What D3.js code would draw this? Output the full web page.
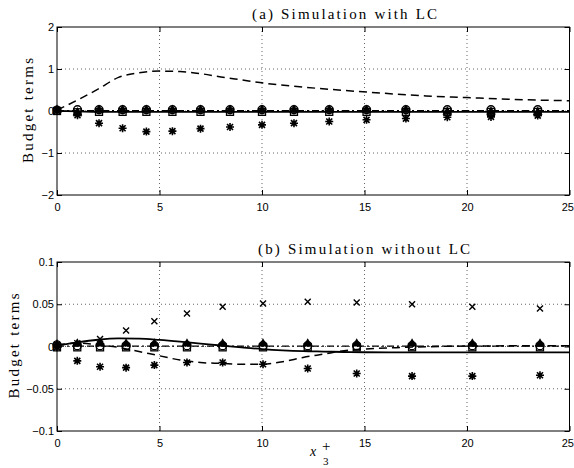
<!DOCTYPE html>
<html>
<head>
<meta charset="utf-8">
<script src="https://cdn.jsdelivr.net/npm/d3@7"></script>
<style>
  body { margin: 0; background: #fff; }
  .tick text { font-family: "Liberation Sans", Arial, sans-serif; font-size: 11px; fill: #000; }
  .ttl { font-family: "Liberation Serif", "DejaVu Serif", serif; font-size: 15px; }
</style>
</head>
<body>
<svg id="chart" width="574" height="468"></svg>
<script>
// Data
const xTicks = [0, 5, 10, 15, 20, 25];

// (a) with LC
const lineXA = [0, 1, 2, 3, 4, 5, 6, 7, 8, 9, 10, 12, 14, 16, 18, 20, 22, 25];
const dashedA = [0.02, 0.26, 0.52, 0.8, 0.91, 0.95, 0.94, 0.89, 0.81, 0.74, 0.67, 0.57, 0.49, 0.42, 0.36, 0.32, 0.28, 0.245];
const solidA = [0, -0.01, -0.02, -0.02, -0.02, -0.02, -0.02, -0.02, -0.02, -0.02, -0.02, -0.02, -0.02, -0.02, -0.02, -0.02, -0.02, -0.02];
const dashdotA = [0.01, 0.01, 0.01, 0.01, 0.01, 0.01, 0.01, 0.01, 0.01, 0.01, 0.01, 0.01, 0.01, 0.01, 0.01, 0.01, 0.01, 0.01];
const markXA = [0, 1, 2.05, 3.2, 4.36, 5.63, 7, 8.44, 10, 11.56, 13.28, 15.1, 17.02, 19.04, 21.17, 23.45];
const starA = [0, -0.1, -0.29, -0.41, -0.49, -0.48, -0.42, -0.38, -0.33, -0.29, -0.25, -0.21, -0.18, -0.15, -0.14, -0.11];
const circleA = [0.02, 0.03, 0.03, 0.03, 0.03, 0.03, 0.03, 0.03, 0.03, 0.03, 0.03, 0.03, 0.03, 0.03, 0.03, 0.03];
const squareA = [0, -0.03, -0.02, -0.02, -0.02, -0.02, -0.02, -0.02, -0.02, -0.02, -0.02, -0.02, -0.02, -0.02, -0.02, -0.02];
const triA = [0, -0.06, 0, 0, 0, 0, 0, 0, 0, 0, 0, 0, 0, -0.04, -0.04, -0.05];
const yTicksA = [-2, -1, 0, 1, 2];

// (b) without LC
const lineXB = [0, 1, 2, 3, 4, 5, 6, 7, 8, 9, 10, 11, 12, 13, 14, 15, 17, 20, 25];
const solidB = [0.001, 0.005, 0.008, 0.0095, 0.0093, 0.0078, 0.0058, 0.0035, 0.0012, -0.001, -0.003, -0.0045, -0.0055, -0.006, -0.0065, -0.0068, -0.007, -0.007, -0.007];
const dashedB = [0.002, 0.004, 0.002, -0.001, -0.006, -0.011, -0.016, -0.019, -0.02, -0.021, -0.021, -0.018, -0.013, -0.009, -0.005, -0.003, -0.001, 0.0005, 0.001];
const dashdotB = [0.0005, 0.0005, 0.0005, 0.0005, 0.0005, 0.0005, 0.0005, 0.0005, 0.0005, 0.0005, 0.0005, 0.0005, 0.0005, 0.0005, 0.0005, 0.0005, 0.0005, 0.0005, 0.0005];
const markXB = [0, 0.99, 2.1, 3.37, 4.75, 6.34, 8.08, 10.05, 12.23, 14.62, 17.32, 20.26, 23.56];
const crossB = [0.002, 0.004, 0.009, 0.019, 0.03, 0.039, 0.047, 0.051, 0.053, 0.052, 0.05, 0.047, 0.045];
const starB = [-0.001, -0.017, -0.024, -0.025, -0.022, -0.019, -0.019, -0.021, -0.026, -0.032, -0.035, -0.035, -0.034];
const circleB = [0.002, 0.001, 0.001, 0.001, 0.001, 0.001, 0.001, 0.001, 0.001, 0.001, 0.001, 0.001, 0.001];
const squareB = [-0.001, -0.001, -0.001, -0.001, -0.001, -0.001, -0.001, -0.001, -0.001, -0.001, -0.001, -0.001, -0.001];
const triB = [0.001, 0.002, 0.002, 0.002, 0.002, 0.002, 0.002, 0.002, 0.002, 0.002, 0.002, 0.002, 0.002];
const yTicksB = [-0.1, -0.05, 0, 0.05, 0.1];

const svg = d3.select('#chart');

function drawPanel(opt) {
    const x = d3.scaleLinear().domain([0, 25]).range([57, 569.5]);
    const y = d3.scaleLinear().domain(opt.yDomain).range([opt.bottom, opt.top]);
    const g = svg.append('g');

    // dotted grid
    g.selectAll('.gx').data(xTicks.slice(1, -1)).enter().append('line')
        .attr('x1', d => x(d)).attr('x2', d => x(d))
        .attr('y1', opt.top).attr('y2', opt.bottom)
        .attr('stroke', '#000').attr('stroke-width', 0.6).attr('stroke-dasharray', '1,3');
    g.selectAll('.gy').data(opt.yTicks.slice(1, -1)).enter().append('line')
        .attr('x1', x(0)).attr('x2', x(25))
        .attr('y1', d => y(d)).attr('y2', d => y(d))
        .attr('stroke', '#000').attr('stroke-width', 0.6).attr('stroke-dasharray', '1,3');

    // lines
    const line = (xs) => d3.line().x((d, i) => x(xs[i])).y(d => y(d)).curve(d3.curveMonotoneX);
    const lines = [
        { v: opt.dashdot, dash: '7,3,2,3', w: 1.4 },
        { v: opt.dashed, dash: '8,5', w: 1.5 },
        { v: opt.solid, dash: null, w: 1.8 }
    ];
    lines.forEach(l => {
        g.append('path').datum(l.v)
            .attr('d', line(opt.lineX))
            .attr('fill', 'none').attr('stroke', '#000')
            .attr('stroke-width', l.w)
            .attr('stroke-dasharray', l.dash);
    });

    // markers
    const mx = opt.markX;
    g.selectAll('.sq').data(opt.square).enter().append('rect')
        .attr('x', (d, i) => x(mx[i]) - 3.5).attr('y', d => y(d) - 3.5)
        .attr('width', 7).attr('height', 7)
        .attr('fill', 'none').attr('stroke', '#000').attr('stroke-width', 1.3);
    g.selectAll('.ci').data(opt.circle).enter().append('circle')
        .attr('cx', (d, i) => x(mx[i])).attr('cy', d => y(d)).attr('r', 4)
        .attr('fill', 'none').attr('stroke', '#000').attr('stroke-width', 1.3);
    g.selectAll('.tr').data(opt.tri).enter().append('path')
        .attr('transform', (d, i) => `translate(${x(mx[i])},${y(d) - 1})`)
        .attr('d', d3.symbol().type(d3.symbolTriangle).size(40))
        .attr('fill', '#000');
    g.selectAll('.st').data(opt.star).enter().append('path')
        .attr('transform', (d, i) => `translate(${x(mx[i])},${y(d)})`)
        .attr('d', 'M-4,0H4M0,-4V4M-3,-3L3,3M-3,3L3,-3')
        .attr('stroke', '#000').attr('stroke-width', 1.6);
    if (opt.cross) {
        g.selectAll('.cr').data(opt.cross).enter().append('path')
            .attr('transform', (d, i) => `translate(${x(mx[i])},${y(d)})`)
            .attr('d', 'M-3,-3L3,3M-3,3L3,-3')
            .attr('stroke', '#000').attr('stroke-width', 1.4);
    }

    // axes with box
    g.append('g')
        .attr('transform', `translate(0,${opt.bottom})`)
        .call(d3.axisBottom(x).tickValues(xTicks).tickSize(-5).tickPadding(8))
        .call(a => a.select('.domain').remove())
        .call(a => a.selectAll('.tick text').filter(d => d === 25)
            .attr('text-anchor', 'end').attr('dx', 4));
    g.append('g').attr('transform', `translate(0,${opt.top})`)
        .call(d3.axisTop(x).tickValues(xTicks).tickSize(-5).tickFormat(''))
        .call(a => a.select('.domain').remove());
    g.append('g').attr('transform', `translate(${x(0)},0)`)
        .call(d3.axisLeft(y).tickValues(opt.yTicks).tickSize(-5).tickPadding(3).tickFormat(opt.fmt))
        .call(a => a.select('.domain').remove());
    g.append('g').attr('transform', `translate(${x(25)},0)`)
        .call(d3.axisRight(y).tickValues(opt.yTicks).tickSize(-5).tickFormat(''))
        .call(a => a.select('.domain').remove());
    g.append('rect')
        .attr('x', x(0)).attr('y', opt.top)
        .attr('width', x(25) - x(0)).attr('height', opt.bottom - opt.top)
        .attr('fill', 'none').attr('stroke', '#000').attr('stroke-width', 1);
    g.selectAll('.tick line').attr('stroke', '#000');

    // title and y label
    svg.append('text').attr('class', 'ttl')
        .attr('x', opt.titleX).attr('y', opt.titleY)
        .attr('textLength', opt.titleLen).attr('lengthAdjust', 'spacing')
        .text(opt.title);
    svg.append('text').attr('class', 'ttl')
        .attr('transform', `translate(${opt.labelX},${(opt.top + opt.bottom) / 2 + 52}) rotate(-90)`)
        .attr('textLength', 105).attr('lengthAdjust', 'spacing')
        .text('Budget terms');
    return x;
}

const minus = s => s.replace('-', '\u2212');

drawPanel({
    top: 27, bottom: 195, yDomain: [-2, 2], yTicks: yTicksA,
    fmt: d => minus(String(d)),
    lineX: lineXA, dashed: dashedA, solid: solidA, dashdot: dashdotA,
    markX: markXA, star: starA, circle: circleA, square: squareA, tri: triA,
    title: '(a) Simulation with LC', titleX: 252, titleY: 19, titleLen: 185, labelX: 33
});

drawPanel({
    top: 262, bottom: 431, yDomain: [-0.1, 0.1], yTicks: yTicksB,
    fmt: d => minus(String(d)),
    lineX: lineXB, dashed: dashedB, solid: solidB, dashdot: dashdotB,
    markX: markXB, star: starB, circle: circleB, square: squareB, tri: triB, cross: crossB,
    title: '(b) Simulation without LC', titleX: 258, titleY: 254, titleLen: 212, labelX: 19
});

// x label  x_3^+
const xl = svg.append('g').attr('font-family', '"Liberation Serif", "DejaVu Serif", serif');
xl.append('text').attr('x', 310).attr('y', 456).attr('font-size', 14).attr('font-style', 'italic').text('x');
xl.append('text').attr('x', 322).attr('y', 451).attr('font-size', 15).text('+');
xl.append('text').attr('x', 323).attr('y', 465).attr('font-size', 11).text('3');
</script>
</body>
</html>
